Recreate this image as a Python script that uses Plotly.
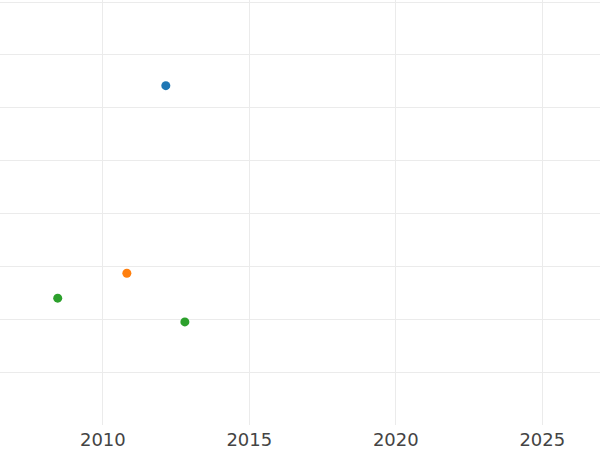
import plotly.graph_objects as go

series_names = ["A", "B", "C"]
series_colors = ["#1f77b4", "#ff7f0e", "#2ca02c"]
years_a = [2012.15]
values_a = [64.2]
years_b = [2010.82]
values_b = [28.7]
years_c = [2008.46, 2012.8]
values_c = [24.0, 19.5]

fig = go.Figure()
for name, color, xs, ys in zip(series_names, series_colors,
                               [years_a, years_b, years_c],
                               [values_a, values_b, values_c]):
    fig.add_trace(go.Scatter(x=xs, y=ys, mode="markers", name=name,
                             marker=dict(color=color, size=9)))

fig.update_layout(
    width=600, height=450,
    template="plotly_white",
    showlegend=False,
    margin=dict(l=0, r=0, t=0, b=23),
    font=dict(family="DejaVu Sans", size=18, color="#444"),
    paper_bgcolor="white", plot_bgcolor="white",
)
fig.update_xaxes(range=[2006.49, 2026.97], tickvals=[2010, 2015, 2020, 2025],
                 ticklabelstandoff=2,
                 showgrid=True, gridcolor="#ebebeb", zeroline=False, showline=False)
fig.update_yaxes(range=[0, 80.4], dtick=10, showticklabels=False,
                 showgrid=True, gridcolor="#ebebeb", zeroline=False, showline=False)

fig.write_html("out.html", config={"displayModeBar": False},
               post_script="document.body.style.margin='0';document.body.style.overflow='hidden';")
